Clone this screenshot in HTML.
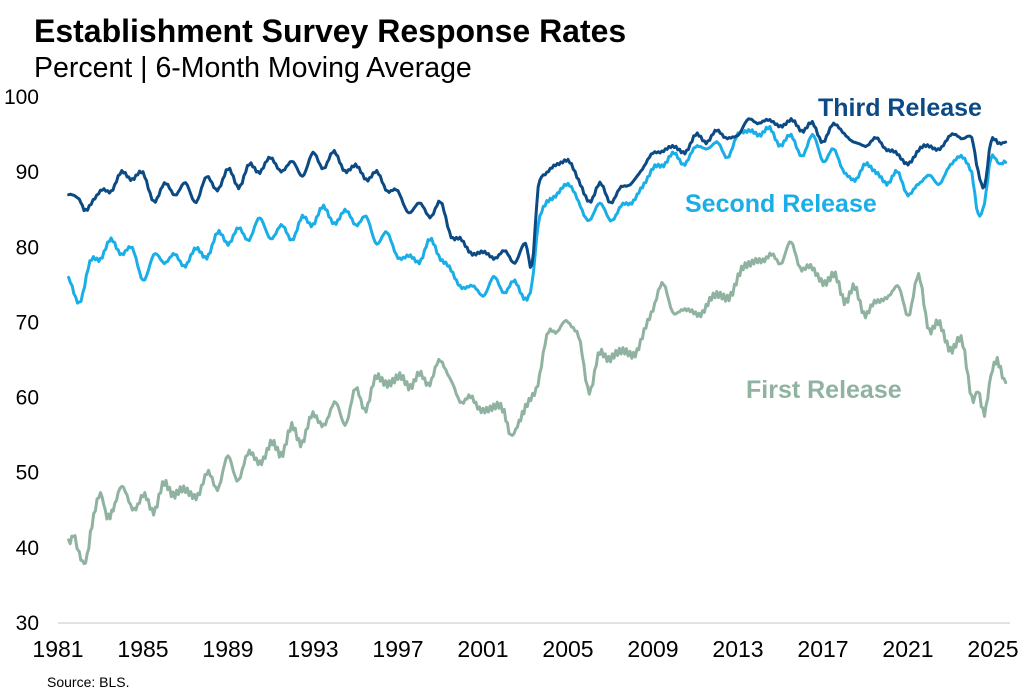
<!DOCTYPE html>
<html><head><meta charset="utf-8"><style>
body{margin:0;background:#fff;}
svg{display:block;font-family:"Liberation Sans",Arial,sans-serif;}
</style></head><body>
<svg id="s" width="1024" height="698" viewBox="0 0 1024 698">
<text x="34" y="42" font-size="32" font-weight="bold" fill="#000">Establishment Survey Response Rates</text>
<text x="34" y="77" font-size="28.5" fill="#000">Percent | 6-Month Moving Average</text>
<line x1="58" y1="623" x2="1010" y2="623" stroke="#d9d9d9" stroke-width="1.5"/>
<g font-size="21" fill="#000" text-anchor="end" id="yt"></g>
<g font-size="23" fill="#000" text-anchor="middle" id="xt"></g>
<g id="lines" fill="none" stroke-width="3" stroke-linejoin="round" stroke-linecap="round"></g>
<text x="818" y="116" font-size="25" font-weight="bold" fill="#0b4a84">Third Release</text>
<text x="685" y="212" font-size="25" font-weight="bold" fill="#1aaee8">Second Release</text>
<text x="746" y="398" font-size="25" font-weight="bold" fill="#8fb3a0">First Release</text>
<text x="47" y="687" font-size="14" fill="#000">Source: BLS.</text>
</svg>
<script>
var NS="http://www.w3.org/2000/svg";
function X(t){return 58+(t-1981)*21.25;}
function Y(v){return 623-(v-30)*7.514;}
var yt=document.getElementById('yt'),xt=document.getElementById('xt'),L=document.getElementById('lines');
for(var v=30;v<=100;v+=10){var e=document.createElementNS(NS,'text');e.setAttribute('x',39);e.setAttribute('y',Y(v)+7);e.textContent=v;yt.appendChild(e);}
for(var t=1981;t<=2025;t+=4){var e=document.createElementNS(NS,'text');e.setAttribute('x',X(t));e.setAttribute('y',657);e.textContent=t;xt.appendChild(e);}
var third=[1981.5,87,1982,86.5,1982.3,85,1983,87.5,1983.5,87.5,1984,90,1984.5,89,1985,90,1985.5,86,1986,88.5,1986.5,87,1987,88.5,1987.5,86,1988,89.5,1988.5,87.5,1989,90.5,1989.5,88,1990,91,1990.5,90,1991,92,1991.5,90,1992,91.5,1992.5,89.5,1993,92.5,1993.5,90.5,1994,92.8,1994.5,90,1995,91,1995.5,89,1996,90,1996.5,87.5,1997,87.5,1997.5,84.5,1998,86,1998.5,84,1999,86,1999.5,81.5,2000,81,2000.5,79,2001,79.5,2001.5,78.5,2002,79.5,2002.5,78,2003,80.5,2003.3,77.5,2003.6,88,2004,90,2004.5,91,2005,91.5,2005.5,89,2006,86,2006.5,88.5,2007,86,2007.5,88,2008,88.5,2008.5,90.5,2009,92.5,2009.5,92.8,2010,93.5,2010.5,92.5,2011,95,2011.5,94,2012,95.5,2012.5,94.5,2013,95,2013.5,97,2014,96.5,2014.5,97,2015,96,2015.5,97,2016,95.5,2016.5,96.5,2017,94,2017.5,96.5,2018,95,2018.5,94,2019,93.5,2019.5,94.5,2020,93,2020.5,92.5,2021,91,2021.5,93,2022,93.5,2022.5,93,2023,95,2023.5,94.5,2024,94.5,2024.3,90,2024.6,88,2024.9,94,2025.3,93.8,2025.6,94];
var second=[1981.5,76,1982,72.5,1982.5,78,1983,78.5,1983.5,81,1984,79,1984.5,80,1985,75.5,1985.5,79,1986,78,1986.5,79,1987,77.5,1987.5,80,1988,78.5,1988.5,82,1989,80.5,1989.5,82.5,1990,81,1990.5,84,1991,81,1991.5,83,1992,81,1992.5,84,1993,83,1993.5,85.5,1994,83,1994.5,85,1995,83,1995.5,84,1996,80.5,1996.5,82,1997,78.5,1997.5,79,1998,78,1998.5,81,1999,78.5,1999.5,77,2000,74.5,2000.5,75,2001,73.5,2001.5,76,2002,74,2002.5,75.5,2003,73,2003.3,75,2003.6,83,2004,86,2004.5,87,2005,88.5,2005.5,86,2006,83.5,2006.5,86,2007,83.5,2007.5,85.5,2008,86,2008.5,88,2009,90.5,2009.5,91,2010,92.5,2010.5,91,2011,93.5,2011.5,93,2012,94,2012.5,92,2013,95,2013.5,95.5,2014,95,2014.5,95.8,2015,93.5,2015.5,95,2016,92,2016.5,95,2017,91.5,2017.5,93,2018,90,2018.5,89,2019,91,2019.5,90,2020,88.5,2020.5,90,2021,87,2021.5,88.5,2022,89.5,2022.5,88.5,2023,91,2023.5,92,2024,90,2024.3,84.5,2024.6,86,2024.9,92,2025.3,91,2025.6,91.3];
var first=[1981.5,40.5,1981.8,41.5,1982,39,1982.3,38,1982.6,43,1983,47,1983.3,44,1983.6,45,1984,48.5,1984.5,45,1985,47,1985.5,45,1986,48.5,1986.5,47,1987,48,1987.5,46.5,1988,50,1988.5,48,1989,52,1989.5,49,1990,53,1990.5,51,1991,54,1991.5,52.5,1992,56,1992.5,54,1993,58,1993.5,56,1994,59.5,1994.5,56.5,1995,61,1995.5,58.5,1996,63,1996.5,61.5,1997,63,1997.5,61.5,1998,63,1998.5,62,1999,65,1999.5,62,2000,59.5,2000.5,60,2001,58,2001.5,59,2002,58,2002.3,55,2002.7,57,2003,59,2003.5,61,2004,68,2004.5,69,2005,70,2005.5,68,2006,61,2006.5,66,2007,65,2007.5,66.5,2008,65.5,2008.5,68,2009,72,2009.5,75,2010,71,2010.5,72,2011,71,2011.5,72,2012,74,2012.5,73,2013,76,2013.5,78,2014,78,2014.5,79,2015,78,2015.5,80.5,2016,77,2016.5,77.5,2017,75,2017.5,76.5,2018,73,2018.5,74.5,2019,71,2019.5,73,2020,73,2020.5,75,2021,71,2021.5,76,2022,69,2022.5,70,2023,66,2023.5,68,2024,60,2024.3,61,2024.6,58,2024.9,63,2025.2,65,2025.6,62];
function draw(a,c,amp,seed){
  var P=[];for(var i=0;i<a.length;i+=2)P.push([a[i],a[i+1]]);
  var d='',first=true;
  for(var i=0;i<P.length-1;i++){
    var p0=P[Math.max(0,i-1)],p1=P[i],p2=P[i+1],p3=P[Math.min(P.length-1,i+2)];
    var n=Math.max(2,Math.round((p2[0]-p1[0])*12));
    for(var k=0;k<n;k++){
      var t=k/n,t2=t*t,t3=t2*t;
      var x=p1[0]+(p2[0]-p1[0])*t;
      var y=0.5*((2*p1[1])+(-p0[1]+p2[1])*t+(2*p0[1]-5*p1[1]+4*p2[1]-p3[1])*t2+(-p0[1]+3*p1[1]-3*p2[1]+p3[1])*t3);
      var nz=amp*(Math.sin(x*37.1+seed)*0.6+Math.sin(x*83.7+seed*2)*0.4);
      d+=(first?'M':'L')+X(x).toFixed(1)+' '+Y(y+nz).toFixed(1);first=false;
    }
  }
  var l=P[P.length-1];d+='L'+X(l[0]).toFixed(1)+' '+Y(l[1]).toFixed(1);
  var p=document.createElementNS(NS,'path');p.setAttribute('d',d);p.setAttribute('stroke',c);L.appendChild(p);}
draw(first,'#8fb3a0',0.7,1);draw(second,'#1aaee8',0.3,2);draw(third,'#0b4a84',0.25,3);
</script>
</body></html>
